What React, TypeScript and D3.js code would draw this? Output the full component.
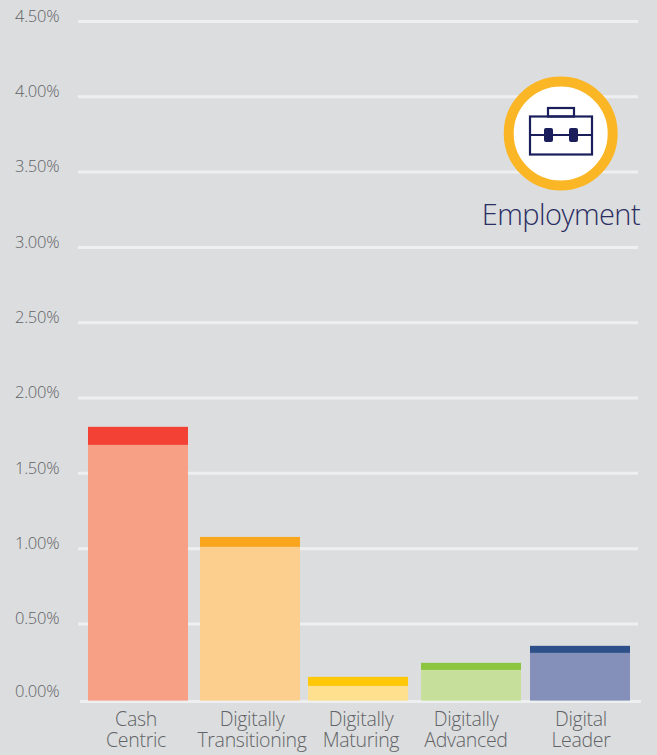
import React from "react";
import * as d3 from "d3";

const W = 657, H = 755;
const categories = ["Cash|Centric", "Digitally|Transitioning", "Digitally|Maturing", "Digitally|Advanced", "Digital|Leader"];
const totalValues = [1.809, 1.078, 0.149, 0.242, 0.355];
const lowerValues = [1.689, 1.012, 0.089, 0.195, 0.308];
const upperColors = ["#f44136", "#f9a61e", "#ffc808", "#8cc63f", "#2d4f8a"];
const lowerColors = ["#f7a086", "#fccf8e", "#ffe08f", "#c6df9b", "#8490ba"];
const tickValues = [0, 0.5, 1, 1.5, 2, 2.5, 3, 3.5, 4, 4.5];
const barCentres = [138, 250, 358, 471, 580];
const labelCentres = [136, 252, 361, 466, 581];
const FONT = "'Open Sans', sans-serif";

export default function App() {
  const y = d3.scaleLinear().domain([0, 4.5]).range([699.3, 21.5]);
  const x = d3.scaleOrdinal<string, number>().domain(categories).range(barCentres);
  const lx = d3.scaleOrdinal<string, number>().domain(categories).range(labelCentres);
  const barW = 100;
  const baseY = 701.6;
  return (
    <svg width={W} height={H} viewBox={`0 0 ${W} ${H}`} style={{ position: "absolute", left: 0, top: 0, display: "block" }}>
      <rect width={W} height={H} fill="#dcddde" />
      {tickValues.map((t) => {
        const ly = t === 0 ? baseY : y(t);
        return (
          <g key={t}>
            <line x1={t === 0 ? 80 : 78} x2={t === 0 ? 641 : 638} y1={ly} y2={ly} stroke="#eeeff0" strokeWidth={3} />
            <text x={15} y={t === 0 ? 697 : y(t) + 0.3} fontFamily={FONT} fontWeight={300} fontSize={16.5} letterSpacing={-0.25} fill="#616367">
              {t.toFixed(2)}%
            </text>
          </g>
        );
      })}
      {categories.map((c, i) => {
        const cx = x(c);
        const bottom = baseY - 1;
        const parts = c.split("|");
        return (
          <g key={c}>
            <rect x={cx - barW / 2} y={y(lowerValues[i])} width={barW} height={bottom - y(lowerValues[i])} fill={lowerColors[i]} />
            <rect x={cx - barW / 2} y={y(totalValues[i])} width={barW} height={y(lowerValues[i]) - y(totalValues[i])} fill={upperColors[i]} />
            <text textAnchor="middle" fontFamily={FONT} fontWeight={300} fontSize={19.5} letterSpacing={-0.3} fill="#616367">
              {parts.map((s, k) => (
                <tspan key={k} x={lx(c)} y={726 + k * 21}>{s}</tspan>
              ))}
            </text>
          </g>
        );
      })}
      <circle cx={560.7} cy={133.5} r={52} fill="#ffffff" stroke="#fbb625" strokeWidth={10} />
      <g fill="none" stroke="#1a1f5c" strokeWidth={2.2}>
        <rect x={530} y={116.5} width={62} height={38} />
        <rect x={548} y={108} width={26} height={8.5} />
        <line x1={530} x2={592} y1={135} y2={135} />
      </g>
      <rect x={544} y={128} width={9} height={14} rx={2} fill="#1a1f5c" />
      <rect x={569} y={128} width={9} height={14} rx={2} fill="#1a1f5c" />
      <text x={640} y={225} textAnchor="end" fontFamily={FONT} fontWeight={300} fontSize={29} letterSpacing={-0.6} fill="#2b2e63">
        Employment
      </text>
    </svg>
  );
}
